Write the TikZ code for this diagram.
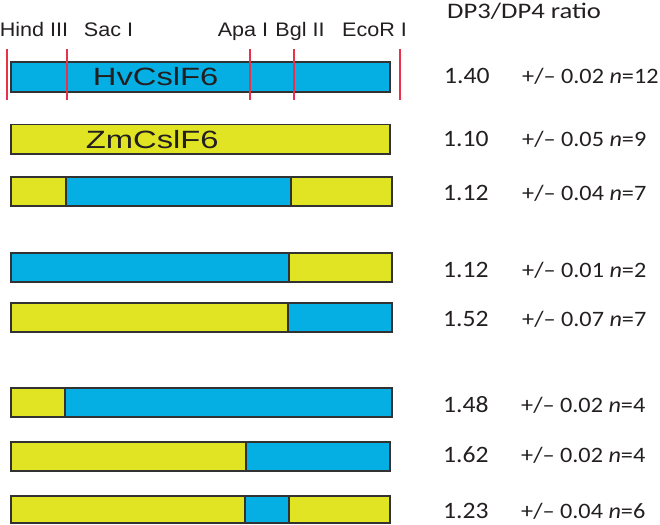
\documentclass[tikz,border=0pt]{standalone}
\usepackage{fontspec}
\setmainfont{Liberation Sans}
\newfontfamily\calib{Carlito}
\definecolor{hv}{RGB}{5,175,228}
\definecolor{zm}{RGB}{225,228,35}
\definecolor{edge}{RGB}{50,50,50}
\definecolor{site}{RGB}{232,50,75}
\definecolor{txt}{RGB}{35,31,32}
\newcommand\wx[2]{\scalebox{#1}[1]{#2}}
\begin{document}
\begin{tikzpicture}[x=1pt,y=-1pt,
  hvseg/.style={draw=edge,line width=1.3pt,fill=hv},
  zmseg/.style={draw=edge,line width=1.3pt,fill=zm},
  cut/.style={draw=site,line width=1.7pt},
  sitelbl/.style={anchor=base,inner sep=0pt,text=txt,font=\fontsize{19.6}{20}\selectfont},
  genelbl/.style={anchor=base west,inner sep=0pt,text=txt,font=\fontsize{25}{26}\selectfont},
  ratio/.style={anchor=base west,inner sep=0pt,text=txt,font=\calib\fontsize{23.5}{24}\selectfont},
  err/.style={anchor=base west,inner sep=0pt,text=txt,font=\calib\fontsize{22}{23}\selectfont}]
\useasboundingbox (0,0) rectangle (660,524);

% restriction site labels
\node[sitelbl] (hind) at (34,37) {\wx{1.1}{Hind III}};
\node[sitelbl] (sac) at (108.5,37) {\wx{1.1}{Sac I}};
\node[sitelbl] (apa) at (243,37) {\wx{1.1}{Apa I}};
\node[sitelbl] (bgl) at (300,37) {\wx{1.1}{Bgl II}};
\node[sitelbl] (eco) at (374.5,37) {\wx{1.1}{EcoR I}};

% title
\node[anchor=base west,inner sep=0pt,text=txt,font=\calib\fontsize{22.2}{23}\selectfont] (title) at (447,19) {\wx{1.2}{DP3/DP4 ratio}};

% bar 1 HvCslF6
\path[hvseg] (11,62) rectangle (390,92);
\foreach \xx in {7,67,250,294,400} \draw[cut] (\xx,49) -- (\xx,100);
\node[genelbl] (hvlbl) at (92.7,85) {\wx{1.31}{HvCslF6}};

% bar 2 ZmCslF6
\path[zmseg] (11,124.5) rectangle (390,154);
\node[genelbl] (zmlbl) at (85.7,148.7) {\wx{1.31}{ZmCslF6}};

% bar 3
\path[zmseg] (11,177) rectangle (66,206);
\path[hvseg] (66,177) rectangle (291,206);
\path[zmseg] (291,177) rectangle (392,206);

% bar 4
\path[hvseg] (11,253) rectangle (289,282);
\path[zmseg] (289,253) rectangle (392,282);

% bar 5
\path[zmseg] (11,303) rectangle (288,332);
\path[hvseg] (288,303) rectangle (392,332);

% bar 6
\path[zmseg] (11,388) rectangle (65,417);
\path[hvseg] (65,388) rectangle (392,417);

% bar 7
\path[zmseg] (11,442) rectangle (246,471);
\path[hvseg] (246,442) rectangle (390,471);

% bar 8
\path[zmseg] (11,496) rectangle (245,523);
\path[hvseg] (245,496) rectangle (289,523);
\path[zmseg] (289,496) rectangle (390,523);

% values
\node[ratio] (r1) at (444,83.3) {\wx{1.09}{1.40}};
\node[err] (e1) at (522,83.3) {\wx{1.1}{+/\textendash\ 0.02 \textit{n}=12}};
\node[ratio] (r2) at (443,146) {\wx{1.09}{1.10}};
\node[err] (e2) at (522,146) {\wx{1.1}{+/\textendash\ 0.05 \textit{n}=9}};
\node[ratio] (r3) at (443,200) {\wx{1.09}{1.12}};
\node[err] (e3) at (522,200) {\wx{1.1}{+/\textendash\ 0.04 \textit{n}=7}};
\node[ratio] (r4) at (443,277) {\wx{1.09}{1.12}};
\node[err] (e4) at (522,277) {\wx{1.1}{+/\textendash\ 0.01 \textit{n}=2}};
\node[ratio] (r5) at (443,326) {\wx{1.09}{1.52}};
\node[err] (e5) at (522,326) {\wx{1.1}{+/\textendash\ 0.07 \textit{n}=7}};
\node[ratio] (r6) at (443,412) {\wx{1.09}{1.48}};
\node[err] (e6) at (521,412) {\wx{1.1}{+/\textendash\ 0.02 \textit{n}=4}};
\node[ratio] (r7) at (443,462) {\wx{1.09}{1.62}};
\node[err] (e7) at (521,462) {\wx{1.1}{+/\textendash\ 0.02 \textit{n}=4}};
\node[ratio] (r8) at (443,518) {\wx{1.09}{1.23}};
\node[err] (e8) at (521,518) {\wx{1.1}{+/\textendash\ 0.04 \textit{n}=6}};
\end{tikzpicture}
\end{document}
